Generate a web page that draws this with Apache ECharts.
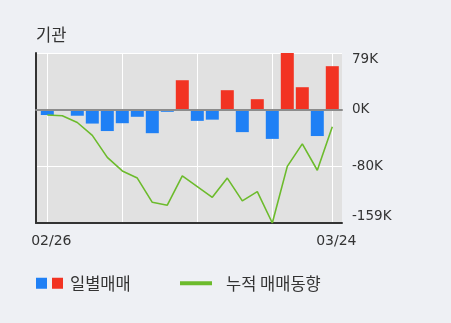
<!DOCTYPE html>
<html><head><meta charset="utf-8">
<script src="https://cdn.jsdelivr.net/npm/echarts@6/dist/echarts.min.js"></script>
<style>html,body{margin:0;padding:0;background:#eef0f4;}#c{width:451px;height:323px;}</style>
</head><body><div id="c"></div>
<script>
const categories = ['02/26','02/27','02/28','03/02','03/03','03/04','03/05','03/06','03/09','03/10','03/11','03/12','03/13','03/16','03/17','03/18','03/19','03/20','03/23','03/24'];
const dailyNet = [-7.5,-1,-8.5,-19.5,-30,-19,-10,-33,-3,41.3,-15.7,-14,27.3,-31.5,14.7,-41,79.5,31.5,-37,61];
const cumulative = [-7.5,-8.5,-18,-36,-67,-86,-96,-130,-134,-93,-108,-123,-96,-128,-115,-159,-79.5,-48,-85,-24];
const yTickLabels = ['-159K','-80K','0K','79K'];
const yMin = -159, yMax = 79.5, yStep = 79.5;

const BLUE = '#1f80f5', RED = '#f23322', GREEN = '#6cbb2c';
const LATIN = 'DejaVu Sans', KR = 'Noto Sans CJK KR';

const chart = echarts.init(document.getElementById('c'), null, {renderer: 'canvas'});
chart.setOption({
  backgroundColor: '#eef0f4',
  animation: false,
  title: {text: '기관', left: 36, top: 26, padding: 0,
    textStyle: {fontSize: 16.5, fontWeight: 'normal', color: '#333', fontFamily: KR}},
  legend: [
    {data: ['일별매매'], left: 36, top: 275, padding: 0, icon: 'rect', itemWidth: 11, itemHeight: 11,
     itemStyle: {color: BLUE}, formatter: '{r|}{t|일별매매}',
     textStyle: {rich: {r: {width: 11, height: 11, backgroundColor: RED},
       t: {padding: [0,0,0,7], fontSize: 16.5, color: '#333', fontFamily: KR}}}},
    {data: ['누적 매매동향'], left: 180, top: 275, padding: 0, icon: 'rect', itemWidth: 32, itemHeight: 4,
     itemStyle: {color: GREEN}, formatter: '{t|누적 매매동향}',
     textStyle: {rich: {t: {padding: [0,0,0,9], fontSize: 16.5, color: '#333', fontFamily: KR}}}}
  ],
  grid: [
    {left: 36, top: 53, width: 306, height: 170, show: true, backgroundColor: '#e1e1e1', borderWidth: 0, z: 0},
    {left: 47.3, top: 53, width: 285, height: 170, show: false}
  ],
  xAxis: [
    {gridIndex: 0, type: 'value', min: 0, max: 1, z: 3,
     axisLine: {show: true, onZero: true, lineStyle: {color: '#8c8c8c', width: 2}},
     axisTick: {show: false}, axisLabel: {show: false}, splitLine: {show: false}},
    {gridIndex: 0, type: 'value', min: 0, max: 1, position: 'bottom', z: 3,
     axisLine: {show: true, onZero: false, lineStyle: {color: '#333', width: 2}},
     axisTick: {show: false}, axisLabel: {show: false}, splitLine: {show: false}},
    {gridIndex: 1, type: 'category', data: categories, boundaryGap: false, z: 1,
     axisLine: {show: false}, axisTick: {show: false},
     axisLabel: {interval: (i) => i === 0 || i === categories.length - 1, margin: 11,
       fontSize: 14, color: '#333', fontFamily: LATIN, padding: [0,0,0,8]},
     splitLine: {show: true, interval: (i) => i % 5 === 0 || i === categories.length - 1,
       lineStyle: {color: '#ffffff', width: 1}}}
  ],
  yAxis: [
    {gridIndex: 0, type: 'value', min: yMin, max: yMax, interval: yStep, position: 'right', z: 1,
     axisLine: {show: false}, axisTick: {show: false},
     axisLabel: {margin: 10, fontSize: 13.5, color: '#333', fontFamily: LATIN, align: 'left',
       formatter: (v, i) => {
         const t = yTickLabels[i];
         if (i === 0) return '{b|' + t + '}';
         if (i === yTickLabels.length - 1) return '{t|' + t + '}';
         return '{m|' + t + '}';
       },
       rich: {
         t: {padding: [12,0,0,0], fontSize: 13.5, color: '#333', fontFamily: LATIN},
         b: {padding: [0,0,14,0], fontSize: 13.5, color: '#333', fontFamily: LATIN},
         m: {fontSize: 13.5, color: '#333', fontFamily: LATIN}
       }},
     splitLine: {show: true, lineStyle: {color: '#ffffff', width: 1}}},
    {gridIndex: 0, type: 'value', min: yMin, max: yMax, position: 'left', z: 3,
     axisLine: {show: true, onZero: false, lineStyle: {color: '#333', width: 2}},
     axisTick: {show: false}, axisLabel: {show: false}, splitLine: {show: false}},
    {gridIndex: 1, type: 'value', min: yMin, max: yMax, show: false}
  ],
  series: [
    {name: '일별매매', type: 'bar', xAxisIndex: 2, yAxisIndex: 2, barWidth: 13, z: 2,
     data: dailyNet, itemStyle: {color: (p) => p.value >= 0 ? RED : BLUE}},
    {name: '누적 매매동향', type: 'line', xAxisIndex: 2, yAxisIndex: 2, z: 4,
     data: cumulative, symbol: 'none', lineStyle: {color: GREEN, width: 1.6}, itemStyle: {color: GREEN}}
  ]
});
</script></body></html>
